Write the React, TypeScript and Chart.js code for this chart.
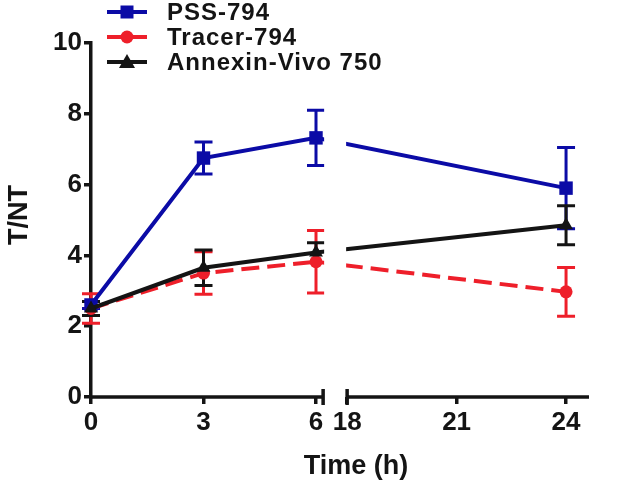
import React, { useEffect, useRef } from "react";
import { Chart, registerables } from "chart.js";

Chart.register(...registerables);

// ---- data ----
const hours = [0, 3, 6, 24];
const pssMean = [2.6, 6.75, 7.32, 5.9];
const pssErr = [0.1, 0.45, 0.78, 1.15];
const tracerMean = [2.5, 3.5, 3.82, 2.97];
const tracerErr = [0.42, 0.6, 0.88, 0.69];
const annexinMean = [2.5, 3.65, 4.08, 4.85];
const annexinErr = [0.2, 0.5, 0.28, 0.55];
const xTickHours = [0, 3, 6, 18, 21, 24];
const yTicks = [0, 2, 4, 6, 8, 10];
const seriesNames = ["PSS-794", "Tracer-794", "Annexin-Vivo 750"];

// broken axis mapping (0-6 | 18-24)
const BREAK_AT = 6.83;
const SEG1_END = 6.19;
const SEG2_SCALE = 0.973;
const X_MAX = 13.28;
const toAxis = (h: number) => (h <= 6 ? h : BREAK_AT + (h - 18) * SEG2_SCALE);

const BLUE = "#0b0ba6";
const RED = "#ee1f2a";
const BLACK = "#141414";
const FONT = "'Liberation Sans', Arial, sans-serif";

const errPlugin = {
  id: "errbars",
  beforeDatasetsDraw(chart: any) {
    const { ctx } = chart;
    const ys = chart.scales.y;
    const errs = [pssErr, tracerErr, annexinErr];
    const means = [pssMean, tracerMean, annexinMean];
    const cols = [BLUE, RED, BLACK];
    ctx.save();
    [1, 0, 2].forEach((i) => {
      const meta = chart.getDatasetMeta(i);
      ctx.strokeStyle = cols[i];
      ctx.lineWidth = 3;
      ctx.setLineDash([]);
      meta.data.forEach((pt: any, j: number) => {
        const x = pt.x;
        const t = ys.getPixelForValue(means[i][j] + errs[i][j]);
        const b = ys.getPixelForValue(means[i][j] - errs[i][j]);
        ctx.beginPath();
        ctx.moveTo(x, t);
        ctx.lineTo(x, b);
        ctx.moveTo(x - 9, t);
        ctx.lineTo(x + 9, t);
        ctx.moveTo(x - 9, b);
        ctx.lineTo(x + 9, b);
        ctx.stroke();
      });
    });
    ctx.restore();
  },
  afterDatasetsDraw(chart: any) {
    const { ctx, chartArea } = chart;
    const xs = chart.scales.x;
    const a = xs.getPixelForValue(SEG1_END) + 1;
    const b = xs.getPixelForValue(BREAK_AT) - 1;
    ctx.save();
    ctx.fillStyle = "#ffffff";
    ctx.fillRect(a, chartArea.top - 20, b - a, chartArea.bottom - chartArea.top + 10);
    ctx.restore();
  },
  afterDraw(chart: any) {
    const { ctx, chartArea } = chart;
    const xs = chart.scales.x;
    const y0 = chartArea.bottom;
    ctx.save();
    ctx.strokeStyle = BLACK;
    ctx.lineWidth = 3.5;
    ctx.lineCap = "butt";
    const e1 = xs.getPixelForValue(SEG1_END);
    const s2 = xs.getPixelForValue(BREAK_AT);
    ctx.beginPath();
    ctx.moveTo(chartArea.left, y0);
    ctx.lineTo(e1, y0);
    ctx.moveTo(e1, y0 - 8);
    ctx.lineTo(e1, y0 + 8);
    ctx.moveTo(s2, y0);
    ctx.lineTo(chartArea.right, y0);
    ctx.moveTo(s2, y0 - 8);
    ctx.lineTo(s2, y0 + 8);
    ctx.stroke();

    // legend
    const rows = [12, 37, 62];
    const cols = [BLUE, RED, BLACK];
    rows.forEach((ry, i) => {
      ctx.strokeStyle = cols[i];
      ctx.fillStyle = cols[i];
      ctx.lineWidth = 4;
      ctx.beginPath();
      ctx.moveTo(107, ry);
      ctx.lineTo(147, ry);
      ctx.stroke();
      const cx = 127;
      ctx.beginPath();
      if (i === 0) {
        ctx.rect(cx - 6.5, ry - 6.5, 13, 13);
      } else if (i === 1) {
        ctx.arc(cx, ry, 6.5, 0, Math.PI * 2);
      } else {
        ctx.moveTo(cx, ry - 8);
        ctx.lineTo(cx + 8, ry + 6);
        ctx.lineTo(cx - 8, ry + 6);
        ctx.closePath();
      }
      ctx.fill();
      ctx.fillStyle = BLACK;
      ctx.font = `bold 24px ${FONT}`;
      (ctx as any).letterSpacing = "1px";
      ctx.textAlign = "left";
      ctx.textBaseline = "middle";
      ctx.fillText(seriesNames[i], 167, ry + 1);
      (ctx as any).letterSpacing = "0px";
    });

    // axis titles
    ctx.fillStyle = BLACK;
    ctx.font = `bold 27px ${FONT}`;
    ctx.textAlign = "center";
    ctx.textBaseline = "middle";
    ctx.fillText("Time (h)", 356, 467);
    ctx.save();
    ctx.translate(20, 215);
    ctx.rotate(-Math.PI / 2);
    ctx.fillText("T/NT", 0, 0);
    ctx.restore();
    ctx.restore();
  },
};

export default function App() {
  const ref = useRef<HTMLCanvasElement>(null);
  useEffect(() => {
    document.body.style.margin = "0";
    const mk = (vals: number[]) => hours.map((h, i) => ({ x: toAxis(h), y: vals[i] }));
    const chart = new Chart(ref.current!, {
      type: "line",
      data: {
        datasets: [
          {
            label: seriesNames[0],
            data: mk(pssMean),
            borderColor: BLUE,
            backgroundColor: BLUE,
            borderWidth: 4,
            pointStyle: "rect",
            pointRadius: 9.5,
            pointBorderWidth: 0,
            clip: false,
            order: 1,
          },
          {
            label: seriesNames[1],
            data: mk(tracerMean),
            borderColor: RED,
            backgroundColor: RED,
            borderWidth: 4,
            borderDash: [18, 8],
            pointStyle: "circle",
            pointRadius: 6.5,
            pointBorderWidth: 0,
            clip: false,
            order: 2,
          },
          {
            label: seriesNames[2],
            data: mk(annexinMean),
            borderColor: BLACK,
            backgroundColor: BLACK,
            borderWidth: 4,
            pointStyle: "triangle",
            pointRadius: 8,
            pointBorderWidth: 0,
            clip: false,
            order: 0,
          },
        ],
      } as any,
      options: {
        animation: false,
        responsive: false,
        events: [],
        layout: { padding: { top: 43, right: 38, left: 0, bottom: 0 } },
        plugins: { legend: { display: false }, tooltip: { enabled: false } },
        scales: {
          x: {
            type: "linear",
            min: 0,
            max: X_MAX,
            afterFit: (s: any) => {
              s.height = 91;
            },
            afterBuildTicks: (s: any) => {
              s.ticks = xTickHours.map((h) => ({ value: toAxis(h) }));
            },
            ticks: {
              autoSkip: false,
              maxRotation: 0,
              color: BLACK,
              font: { family: FONT, size: 26, weight: "bold" },
              padding: 3,
              callback: (_v: any, i: number) => String(xTickHours[i]),
            },
            grid: { drawOnChartArea: false, drawTicks: true, tickLength: 7, color: BLACK, lineWidth: 3.5 },
            border: { display: false },
          },
          y: {
            type: "linear",
            min: 0,
            max: 10,
            afterFit: (s: any) => {
              s.width = 91;
            },
            afterBuildTicks: (s: any) => {
              s.ticks = yTicks.map((v) => ({ value: v }));
            },
            ticks: {
              color: BLACK,
              font: { family: FONT, size: 26, weight: "bold" },
              padding: 2,
            },
            grid: { drawOnChartArea: false, drawTicks: true, tickLength: 7, color: BLACK, lineWidth: 3.5 },
            border: { display: true, color: BLACK, width: 3.5 },
          },
        },
      } as any,
      plugins: [errPlugin],
    });
    return () => chart.destroy();
  }, []);
  return (
    <div style={{ position: "absolute", left: 0, top: 0, width: 627, height: 488 }}>
      <canvas ref={ref} width={627} height={488} style={{ width: 627, height: 488 }} />
    </div>
  );
}
